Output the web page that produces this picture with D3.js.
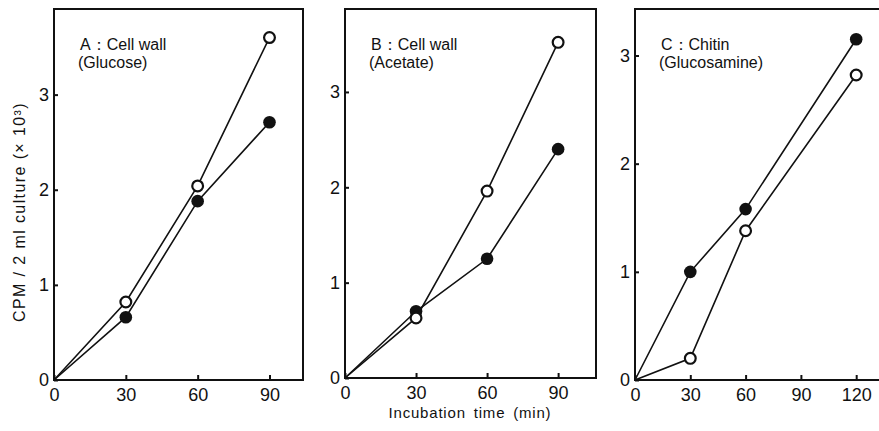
<!DOCTYPE html>
<html lang="en">
<head>
    <meta charset="UTF-8">
    <title>Incorporation into cell wall and chitin</title>
    <script src="https://cdn.jsdelivr.net/npm/d3@7"></script>
    <style>
        body {
            margin: 0;
            background: white;
        }
        text {
            font-family: "Liberation Sans", Arial, sans-serif;
            fill: #111;
        }
        .tick-label {
            font-family: "Liberation Sans Narrow", "Arial Narrow", "Liberation Sans", sans-serif;
            font-size: 18px;
        }
    </style>
</head>
<body>
<script>
    const width  = 879;
    const height = 431;

    // Incubation times (min)
    const timesAB = [0, 30, 60, 90];
    const timesC  = [0, 30, 60, 120];

    // CPM / 2 ml culture (x10^3), open and filled circles
    const aOpen   = [0, 0.82, 2.04, 3.60];
    const aFilled = [0, 0.66, 1.88, 2.71];
    const bOpen   = [0, 0.63, 1.96, 3.52];
    const bFilled = [0, 0.70, 1.25, 2.40];
    const cOpen   = [0, 0.20, 1.38, 2.82];
    const cFilled = [0, 1.00, 1.58, 3.15];

    // Tick labels
    const xTicksAB = [0, 30, 60, 90];
    const xTicksC  = [0, 30, 60, 90, 120];
    const yTicks   = [0, 1, 2, 3];

    // Panel titles
    const titles = [
        ["A\uFF1ACell  wall", "(Glucose)"],
        ["B\uFF1ACell  wall", "(Acetate)"],
        ["C\uFF1AChitin", "(Glucosamine)"]
    ];

    const panels = [
        {left: 54,  right: 303, top: 9, bottom: 380, xMax: 104, yMax: 3.9,
         times: timesAB, open: aOpen, filled: aFilled, xTicks: xTicksAB, title: titles[0]},
        {left: 345, right: 596, top: 9, bottom: 378, xMax: 106, yMax: 3.87,
         times: timesAB, open: bOpen, filled: bFilled, xTicks: xTicksAB, title: titles[1]},
        {left: 635, right: 882, top: 9, bottom: 380, xMax: 134, yMax: 3.43,
         times: timesC, open: cOpen, filled: cFilled, xTicks: xTicksC, title: titles[2]}
    ];

    const svg = d3.select("body").append("svg")
        .attr("width", width)
        .attr("height", height);

    panels.forEach(p => drawPanel(p));

    function drawPanel(p) {
        const x = d3.scaleLinear().domain([0, p.xMax]).range([p.left, p.right]);
        const y = d3.scaleLinear().domain([0, p.yMax]).range([p.bottom, p.top]);

        const g = svg.append("g");

        // frame
        g.append("rect")
            .attr("x", p.left).attr("y", p.top)
            .attr("width", p.right - p.left).attr("height", p.bottom - p.top)
            .attr("fill", "none").attr("stroke", "#111").attr("stroke-width", 2);

        // x axis ticks (inward)
        const xAxis = d3.axisBottom(x).tickValues(p.xTicks).tickFormat(d3.format("d"))
            .tickSize(-5).tickPadding(8);
        const xg = g.append("g").attr("transform", `translate(0,${p.bottom})`).call(xAxis);
        xg.select(".domain").remove();
        xg.selectAll("line").attr("stroke", "#111").attr("stroke-width", 2);
        xg.selectAll("text").attr("class", "tick-label").attr("font-size", null).attr("font-family", null);

        // y axis ticks (inward)
        const yAxis = d3.axisLeft(y).tickValues(yTicks).tickFormat(d3.format("d"))
            .tickSize(-4).tickPadding(5);
        const yg = g.append("g").attr("transform", `translate(${p.left},0)`).call(yAxis);
        yg.select(".domain").remove();
        yg.selectAll("line").attr("stroke", "#111").attr("stroke-width", 2);
        yg.selectAll("text").attr("class", "tick-label").attr("font-size", null).attr("font-family", null);

        const line = d3.line()
            .x((d, i) => x(p.times[i]))
            .y(d => y(d));

        [p.open, p.filled].forEach(series => {
            g.append("path")
                .attr("d", line(series))
                .attr("fill", "none")
                .attr("stroke", "#111")
                .attr("stroke-width", 1.6);
        });

        // markers (skip the origin)
        g.selectAll(".filled")
            .data(p.filled.slice(1))
            .join("circle").attr("class", "filled")
            .attr("cx", (d, i) => x(p.times[i + 1]))
            .attr("cy", d => y(d))
            .attr("r", 6.3)
            .attr("fill", "#111");

        g.selectAll(".open")
            .data(p.open.slice(1))
            .join("circle").attr("class", "open")
            .attr("cx", (d, i) => x(p.times[i + 1]))
            .attr("cy", d => y(d))
            .attr("r", 5.4)
            .attr("fill", "white")
            .attr("stroke", "#111")
            .attr("stroke-width", 2.2);

        // panel title
        const t = g.append("text")
            .attr("y", 50)
            .style("font-size", "16px");
        t.append("tspan").attr("x", p.left + 26).text(p.title[0]);
        t.append("tspan").attr("x", p.left + 24).attr("dy", 18).text(p.title[1]);
    }

    // axis titles
    svg.append("text")
        .attr("transform", "translate(25,212) rotate(-90)")
        .attr("text-anchor", "middle")
        .style("font-size", "16px")
        .style("letter-spacing", "1.4px")
        .text("CPM / 2 ml culture (\u00D7 10\u00B3)");

    svg.append("text")
        .attr("x", 470)
        .attr("y", 418)
        .attr("text-anchor", "middle")
        .style("font-size", "15px")
        .style("letter-spacing", "0.8px")
        .style("word-spacing", "3px")
        .text("Incubation time (min)");
</script>
</body>
</html>
